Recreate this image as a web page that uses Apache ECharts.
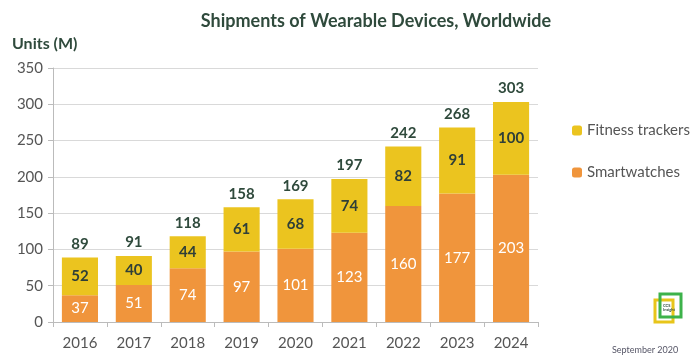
<!DOCTYPE html>
<html><head><meta charset="utf-8">
<script src="https://cdn.jsdelivr.net/npm/echarts@6/dist/echarts.min.js"></script>
<style>html,body{margin:0;padding:0;background:#fff}#c{width:700px;height:362px}</style>
</head><body><div id="c"></div>
<script>
const years = ['2016','2017','2018','2019','2020','2021','2022','2023','2024'];
const smartwatches = [37,51,74,97,101,123,160,177,203];
const fitnessTrackers = [52,40,44,61,68,74,82,91,100];
const totals = [89,91,118,158,169,197,242,268,303];
const yTicks = [0,50,100,150,200,250,300,350];

const FONT = 'Lato, "Open Sans", sans-serif';
const chart = echarts.init(document.getElementById('c'));
chart.setOption({
  backgroundColor:'#fff',
  textStyle:{fontFamily:FONT},
  title:{text:'Shipments of Wearable Devices, Worldwide', left:371, textAlign:'center', top:7,
    textStyle:{fontFamily:FONT, fontSize:18, fontWeight:'bold', color:'#2f4a3c'}},
  legend:{orient:'vertical', left:567, top:118, itemWidth:10, itemHeight:10, itemGap:27, itemStyle:{borderWidth:0},
    data:['Fitness trackers','Smartwatches'],
    textStyle:{fontFamily:FONT, fontSize:15, color:'#555'}},
  grid:{left:53, right:162, top:68, bottom:40},
  xAxis:{type:'category', data:years,
    axisLine:{lineStyle:{color:'#bbb'}}, axisTick:{show:true, lineStyle:{color:'#bbb'}, length:5},
    axisLabel:{fontFamily:FONT, fontSize:15, color:'#555', margin:14}},
  yAxis:{type:'value', min:0, max:350, interval:50,
    axisLine:{show:true, lineStyle:{color:'#bbb'}}, axisTick:{show:true, length:5, lineStyle:{color:'#bbb'}},
    splitLine:{lineStyle:{color:'#d9d9d9'}},
    axisLabel:{fontFamily:FONT, fontSize:15, color:'#555', margin:10,
      formatter:v=> yTicks.includes(v)? String(v):''}},
  graphic:[
    {type:'text', left:12, top:36, style:{text:'Units (M)', font:'bold 16px '+FONT, fill:'#2f4a3c'}},
    {type:'rect', shape:{x:655, y:300, width:18, height:22}, style:{fill:'none', stroke:'#e8c51a', lineWidth:3}},
    {type:'rect', shape:{x:660, y:294, width:21, height:23}, style:{fill:'none', stroke:'#3db24a', lineWidth:3}},
    {type:'text', x:663, y:304, style:{text:'CCS\nInsight', font:'bold 4px '+FONT, fill:'#2f4a3c'}},
    {type:'text', x:612, y:346, style:{text:'September 2020', font:'9px '+FONT, fill:'#556'}}
  ],
  series:[
    {name:'Smartwatches', type:'bar', stack:'s', data:smartwatches, barWidth:'67%',
      itemStyle:{color:'#f0953c'},
      label:{show:true, position:'inside', color:'#fff', fontFamily:FONT, fontSize:15}},
    {name:'Fitness trackers', type:'bar', stack:'s', data:fitnessTrackers,
      itemStyle:{color:'#ebc41f'},
      label:{show:true, position:'inside', color:'#2f3f38', fontFamily:FONT, fontSize:15, fontWeight:'bold'}},
    {name:'Total', type:'bar', stack:'s', data:totals.map(()=>0),
      itemStyle:{color:'transparent'},
      label:{show:true, position:'top', distance:6, color:'#2f4a3c', fontFamily:FONT, fontSize:15, fontWeight:'bold',
        formatter:p=>String(totals[p.dataIndex])}}
  ]
});
</script></body></html>
